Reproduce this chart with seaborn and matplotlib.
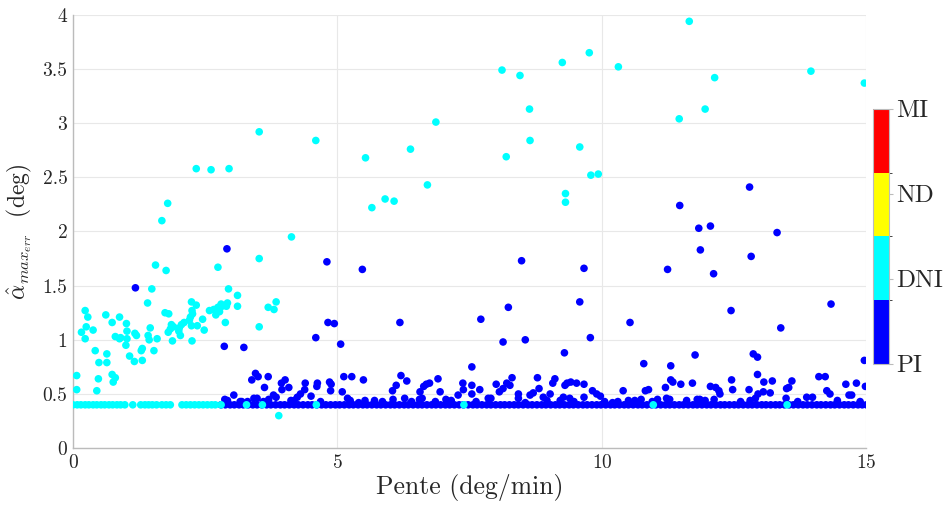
import numpy as np
import pandas as pd
import seaborn as sns
import matplotlib.pyplot as plt
from matplotlib.colors import ListedColormap, BoundaryNorm
from matplotlib.cm import ScalarMappable

# --- data ---
# PI (blue) points above the floor
pi_x = [1.18, 2.91, 2.86, 3.23, 4.59, 4.80, 4.82, 4.94, 5.06, 5.47, 6.18, 7.54, 7.71,
        8.13, 8.23, 8.48, 8.55, 9.29, 9.58, 9.66, 9.78, 10.53, 10.79, 11.24, 11.47,
        11.83, 11.86, 12.05, 12.11, 11.30, 11.76, 12.44, 12.79, 12.82, 12.86, 12.94,
        13.31, 13.38, 14.33, 14.96,
        2.87, 2.92, 3.04, 3.16, 3.19, 3.38, 3.45, 3.50, 3.42, 3.48, 3.62, 3.69, 3.70,
        3.79, 3.84, 3.94, 4.01, 3.95, 4.08, 4.18, 4.24, 4.30, 4.38, 4.39, 4.50, 4.61,
        4.62, 4.85, 4.88, 4.87, 5.09, 5.12, 5.19, 5.27, 5.24, 5.49, 5.52, 6.04, 6.11,
        6.20, 6.31, 6.05, 6.27, 6.56, 6.63, 6.68, 6.74, 6.90, 6.94, 6.55, 6.60, 7.28,
        7.37, 7.38, 7.54, 7.54, 7.69, 7.85, 7.90, 8.00, 8.06, 8.13, 8.20, 8.30, 8.26,
        8.42, 8.42, 8.64, 8.70, 8.78, 8.81, 8.89, 9.02, 9.07, 9.11, 9.21, 9.30, 9.34,
        9.41, 9.52, 9.66, 9.82, 9.90, 9.97, 9.27, 9.39, 9.66, 10.40, 10.82, 10.88,
        10.50, 10.74, 11.20, 11.34, 11.30, 11.22, 11.28, 11.49, 11.71, 11.60, 11.80,
        11.85, 12.05, 12.15, 12.21, 12.23, 12.12, 12.45, 12.47, 12.78, 12.94, 13.06,
        13.22, 12.95, 13.05, 13.18, 12.90, 12.80, 13.49, 13.53, 13.59, 13.48, 13.87,
        13.98, 14.10, 14.22, 14.25, 14.31, 14.61, 14.67, 14.72, 14.81, 14.98, 10.05,
        10.62, 10.95, 11.05, 11.95, 12.62, 13.70, 14.45, 14.88, 7.05, 7.15, 6.40, 5.70,
        5.85, 3.30, 3.60, 4.12, 4.68, 5.40, 6.85, 7.62, 8.55, 8.96, 9.47, 10.20, 10.30]
pi_y = [1.48, 1.84, 0.94, 0.93, 1.02, 1.72, 1.16, 1.15, 0.96, 1.65, 1.16, 0.75, 1.19,
        0.98, 1.30, 1.73, 1.00, 0.88, 1.35, 1.66, 1.02, 1.16, 0.78, 1.65, 2.24,
        2.03, 1.83, 2.05, 1.61, 0.76, 0.86, 1.27, 2.41, 1.77, 0.87, 0.84,
        1.99, 1.11, 1.33, 0.81,
        0.45, 0.44, 0.49, 0.43, 0.43, 0.63, 0.69, 0.66, 0.46, 0.46, 0.56, 0.66, 0.45,
        0.49, 0.47, 0.60, 0.63, 0.54, 0.56, 0.44, 0.47, 0.50, 0.54, 0.60, 0.48, 0.57,
        0.60, 0.61, 0.59, 0.53, 0.52, 0.66, 0.46, 0.66, 0.44, 0.63, 0.44, 0.53, 0.58,
        0.67, 0.62, 0.45, 0.46, 0.52, 0.57, 0.59, 0.60, 0.64, 0.52, 0.45, 0.46, 0.49,
        0.60, 0.54, 0.58, 0.50, 0.54, 0.46, 0.46, 0.59, 0.52, 0.55, 0.60, 0.65, 0.58,
        0.50, 0.46, 0.49, 0.51, 0.65, 0.55, 0.47, 0.50, 0.60, 0.64, 0.44, 0.58, 0.60,
        0.61, 0.60, 0.59, 0.53, 0.50, 0.48, 0.47, 0.46, 0.47, 0.53, 0.53, 0.54,
        0.44, 0.45, 0.56, 0.61, 0.63, 0.46, 0.45, 0.59, 0.60, 0.44, 0.45,
        0.45, 0.57, 0.56, 0.53, 0.50, 0.45, 0.63, 0.54, 0.54, 0.68, 0.61,
        0.62, 0.50, 0.52, 0.51, 0.46, 0.44, 0.55, 0.56, 0.62, 0.46, 0.47,
        0.47, 0.66, 0.66, 0.53, 0.50, 0.59, 0.49, 0.49, 0.60, 0.57, 0.43,
        0.44, 0.43, 0.45, 0.44, 0.43, 0.43, 0.44, 0.43, 0.45, 0.44, 0.43, 0.44,
        0.43, 0.43, 0.43, 0.44, 0.43, 0.42, 0.43, 0.43, 0.42, 0.44, 0.43, 0.42, 0.43]

# PI points sitting on the 0.4 floor
pi_floor_x = [2.80, 2.88, 2.97, 3.05, 3.14, 3.22, 3.31, 3.40, 3.48, 3.57, 3.66, 3.74,
              3.83, 3.92, 4.00, 4.09, 4.18, 4.26, 4.35, 4.44, 4.52, 4.61, 4.70, 4.78,
              4.87, 4.96, 5.04, 5.13, 5.22, 5.30, 5.39, 5.48, 5.56, 5.65, 5.74, 5.82,
              5.91, 6.00, 6.08, 6.17, 6.26, 6.34, 6.43, 6.52, 6.60, 6.69, 6.78, 6.86,
              6.95, 7.04, 7.12, 7.21, 7.30, 7.38, 7.47, 7.56, 7.64, 7.73, 7.82, 7.90,
              7.99, 8.08, 8.16, 8.25, 8.34, 8.42, 8.51, 8.60, 8.68, 8.77, 8.86, 8.94,
              9.03, 9.12, 9.20, 9.29, 9.38, 9.46, 9.55, 9.64, 9.72, 9.81, 9.90, 9.98,
              10.07, 10.16, 10.24, 10.33, 10.42, 10.50, 10.59, 10.68, 10.76, 10.85,
              10.94, 11.02, 11.11, 11.20, 11.28, 11.37, 11.46, 11.54, 11.63, 11.72,
              11.80, 11.89, 11.98, 12.06, 12.15, 12.24, 12.32, 12.41, 12.50, 12.58,
              12.67, 12.76, 12.84, 12.93, 13.02, 13.10, 13.19, 13.28, 13.36, 13.45,
              13.54, 13.62, 13.71, 13.80, 13.88, 13.97, 14.06, 14.14, 14.23, 14.32,
              14.40, 14.49, 14.58, 14.66, 14.75, 14.84, 14.92, 15.00]

# DNI (cyan) points
dni_x = [0.07, 0.07, 0.23, 0.16, 0.25, 0.28, 0.23, 0.38, 0.42, 0.49, 0.48, 0.45, 0.62,
         0.64, 0.64, 0.74, 0.74, 0.80, 0.76, 0.80, 0.88, 0.88, 0.90, 1.01, 1.02, 1.02,
         1.00, 1.07, 1.16, 1.17, 1.20, 1.29, 1.31, 1.31, 1.42, 1.44, 1.46, 1.41, 1.49,
         1.56, 1.53, 1.59, 1.68, 1.79, 1.76, 1.74, 1.81, 1.80, 1.84, 1.86, 1.90, 1.88,
         2.00, 2.01, 2.05, 2.10, 2.03, 2.24, 2.33, 2.20, 2.24, 2.26, 2.22, 2.25, 2.35,
         2.25, 2.48, 2.45, 2.33, 2.61, 2.95, 2.58, 2.66, 2.74, 2.80, 2.82, 2.70, 2.77,
         2.88, 2.74, 2.94, 2.90, 2.92, 3.11, 3.11, 3.52, 3.52, 3.52, 3.69, 3.80, 3.84,
         4.13, 4.59, 3.89, 5.53, 5.65, 5.90, 6.07, 6.38, 6.70, 6.86, 8.11, 8.19, 8.45,
         8.63, 8.64, 9.25, 9.31, 9.31, 9.58, 9.76, 9.79, 9.93, 10.31, 11.65, 11.46,
         11.95, 12.13, 13.95, 14.96]
dni_y = [0.67, 0.54, 1.27, 1.07, 1.12, 1.21, 1.01, 1.09, 0.90, 0.79, 0.64, 0.53, 1.23,
         0.87, 0.79, 1.16, 0.68, 0.65, 0.61, 1.03, 1.21, 1.01, 1.02, 1.15, 1.08, 1.01,
         0.95, 0.85, 0.80, 1.06, 1.04, 0.90, 0.92, 0.81, 1.04, 1.00, 1.11, 1.34, 1.47,
         1.69, 0.90, 1.01, 2.10, 2.26, 1.64, 1.25, 1.24, 1.07, 1.10, 1.14, 1.12, 0.99,
         1.08, 1.11, 1.14, 1.16, 1.04, 1.35, 1.32, 1.18, 1.13, 1.24, 1.21, 0.99, 1.13,
         1.27, 1.09, 1.19, 2.58, 2.57, 2.58, 1.27, 1.28, 1.30, 1.33, 1.31, 1.23, 1.26,
         1.16, 1.67, 1.47, 1.31, 1.34, 1.41, 1.31, 2.92, 1.75, 1.12, 1.30, 1.28, 1.35,
         1.95, 2.84, 0.30, 2.68, 2.22, 2.30, 2.28, 2.76, 2.43, 3.01, 3.49, 2.69, 3.44,
         3.13, 2.84, 3.56, 2.27, 2.35, 2.78, 3.65, 2.52, 2.53, 3.52, 3.94, 3.04,
         3.13, 3.42, 3.48, 3.37]

# DNI points sitting on the 0.4 floor
dni_floor_x = [0.00, 0.08, 0.15, 0.23, 0.30, 0.38, 0.45, 0.53, 0.60, 0.68, 0.75, 0.83,
               0.90, 0.98, 1.13, 1.28, 1.36, 1.43, 1.50, 1.58, 1.68, 1.76, 1.84, 2.06,
               2.14, 2.22, 2.30, 2.38, 2.46, 2.54, 2.62, 2.69, 2.80, 3.28, 3.58, 4.60,
               7.39, 10.97, 13.50]
floor_value = 0.4

classes = ["PI", "DNI", "ND", "MI"]
class_colors = ["#0000ff", "#00ffff", "#ffff00", "#ff0000"]

df = pd.concat([
    pd.DataFrame({"pente": pi_x, "alpha": pi_y, "classe": "PI"}),
    pd.DataFrame({"pente": pi_floor_x, "alpha": floor_value, "classe": "PI"}),
    pd.DataFrame({"pente": dni_floor_x, "alpha": floor_value, "classe": "DNI"}),
    pd.DataFrame({"pente": dni_x, "alpha": dni_y, "classe": "DNI"}),
], ignore_index=True)

sns.set_style("white")
plt.rcParams["font.family"] = ["cmr10", "DejaVu Serif"]
plt.rcParams["mathtext.fontset"] = "cm"
plt.rcParams["axes.formatter.use_mathtext"] = True

fig = plt.figure(figsize=(9.48, 5.11), dpi=100)
ax = fig.add_axes([0.077, 0.123, 0.837, 0.848])

sns.scatterplot(data=df, x="pente", y="alpha", hue="classe",
                palette=dict(zip(classes, class_colors)), s=30, linewidth=0,
                legend=False, ax=ax, zorder=3)

ax.set_xlim(0, 15)
ax.set_ylim(0, 4)
ax.set_xticks([0, 5, 10, 15])
ax.set_yticks(np.arange(0, 4.01, 0.5))
ax.set_yticklabels(["0", "0.5", "1", "1.5", "2", "2.5", "3", "3.5", "4"])
ax.grid(True, color="#e8e8e8", linewidth=0.8, zorder=0)
ax.tick_params(direction="in", length=4, color="#bbbbbb", labelsize=14,
               labelcolor="#262626", pad=4)
for side in ["top", "right"]:
    ax.spines[side].set_visible(False)
for side in ["left", "bottom"]:
    ax.spines[side].set_color("#bbbbbb")
    ax.spines[side].set_linewidth(1.0)

ax.set_xlabel("Pente (deg/min)", fontsize=18.5, color="#262626", labelpad=2)
ax.set_ylabel(r"$\hat{\alpha}_{max_{err}}$  (deg)", fontsize=17, color="#262626",
              labelpad=6)

# discrete colour bar
cax = fig.add_axes([0.921, 0.288, 0.017, 0.499])
cmap = ListedColormap(class_colors)
norm = BoundaryNorm(np.linspace(0, 4, 5), cmap.N)
sm = ScalarMappable(norm=norm, cmap=cmap)
cb = fig.colorbar(sm, cax=cax, ticks=[0, 4 / 3, 8 / 3, 4])
cb.set_ticklabels(classes)
cb.outline.set_edgecolor("#bbbbbb")
cb.ax.tick_params(labelsize=18, length=3, color="#bbbbbb", labelcolor="#262626",
                  pad=2)

fig.savefig("out.png", dpi=100)
